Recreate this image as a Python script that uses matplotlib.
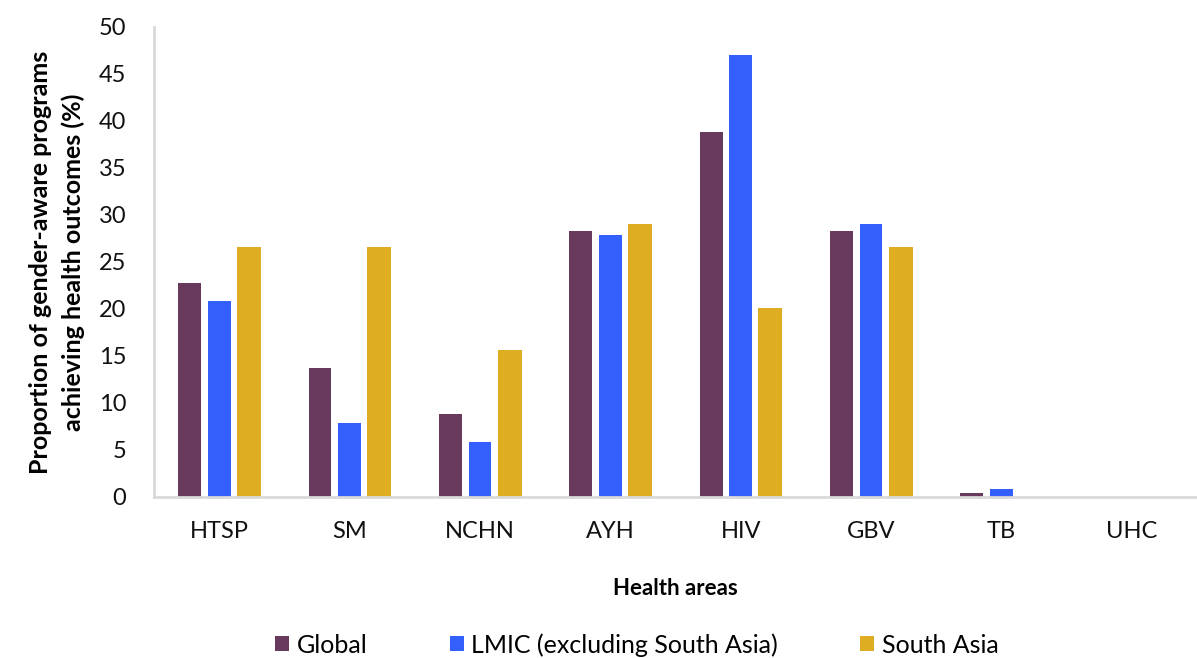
import numpy as np
import matplotlib.pyplot as plt

areas = ["HTSP", "SM", "NCHN", "AYH", "HIV", "GBV", "TB", "UHC"]
global_vals = [22.8, 13.7, 8.8, 28.3, 38.8, 28.3, 0.4, 0]
lmic_vals = [20.9, 7.9, 5.8, 27.9, 47.0, 29.0, 0.9, 0]
south_asia_vals = [26.6, 26.6, 15.6, 29.0, 20.1, 26.6, 0, 0]

plt.rcParams['font.family'] = ['Lato', 'DejaVu Sans']

fig = plt.figure(figsize=(11.97, 6.58), dpi=100)
ax = fig.add_axes([0.1287, 0.2447, 0.8713, 0.7143])

x = np.arange(len(areas))
w = 0.175
ax.bar(x - 0.227, global_vals, w, color='#673a5d', label='Global')
ax.bar(x, lmic_vals, w, color='#335ffd', label='LMIC (excluding South Asia)')
ax.bar(x + 0.227, south_asia_vals, w + 0.01, color='#dfad21', label='South Asia')

ax.set_xlim(-0.5, len(areas) - 0.5)
ax.set_ylim(0, 50)
ax.set_yticks(range(0, 51, 5))
ax.set_xticks(x)
ax.set_xticklabels(areas)
ax.tick_params(length=0, labelsize=17, colors='#111111')
ax.tick_params(axis='x', pad=17)
ax.tick_params(axis='y', pad=20)

for s in ['top', 'right']:
    ax.spines[s].set_visible(False)
for s in ['left', 'bottom']:
    ax.spines[s].set_color('#d9d9d9')
    ax.spines[s].set_linewidth(2)

ax.set_xlabel('Health areas', fontsize=16, fontweight='bold', labelpad=26)
ax.set_ylabel('Proportion of gender-aware programs\nachieving health outcomes (%)',
              fontsize=18, fontweight='bold', labelpad=10, linespacing=1.45)

fig.legend(loc='lower center', bbox_to_anchor=(0.532, -0.032), ncol=3, frameon=False,
           fontsize=18, handlelength=0.55, handleheight=0.55, handletextpad=0.3,
           columnspacing=3.3)

plt.savefig('out.png', dpi=100)
